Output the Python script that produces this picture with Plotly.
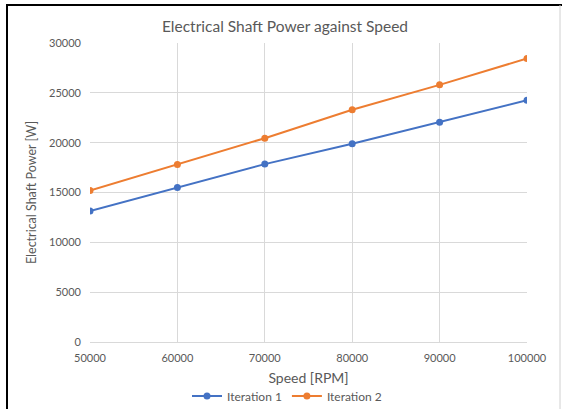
import plotly.graph_objects as go

speed = [50000, 60000, 70000, 80000, 90000, 100000]
iteration1 = [13150, 15500, 17850, 19900, 22050, 24250]
iteration2 = [15200, 17800, 20450, 23300, 25800, 28450]
series_names = ["Iteration 1", "Iteration 2"]
x_ticks = [50000, 60000, 70000, 80000, 90000, 100000]
y_ticks = [0, 5000, 10000, 15000, 20000, 25000, 30000]

W, H = 562, 409
L, R, T, B = 90, 527, 43, 342
pw, ph = R - L, B - T

def px(x):
    return (x - L) / pw

def py(y):
    return (B - y) / ph

gray = "#595959"
font_family = "Lato, 'Noto Sans', sans-serif"

fig = go.Figure()
fig.add_trace(go.Scatter(x=speed, y=iteration1, name=series_names[0], mode="lines+markers",
                         line=dict(color="#4472C4", width=2), marker=dict(size=7, color="#4472C4")))
fig.add_trace(go.Scatter(x=speed, y=iteration2, name=series_names[1], mode="lines+markers",
                         line=dict(color="#ED7D31", width=2), marker=dict(size=7, color="#ED7D31")))

fig.update_layout(
    width=W, height=H,
    margin=dict(l=L, r=W - R, t=T, b=H - B, autoexpand=False),
    paper_bgcolor="white", plot_bgcolor="white",
    font=dict(family=font_family, color=gray, size=11),
    title=dict(text="Electrical Shaft Power against Speed", x=(285) / W, xanchor="center",
               y=1 - 27 / H, yanchor="middle", font=dict(size=15.5, color=gray)),
    showlegend=True,
    legend=dict(orientation="h", x=px(287), xanchor="center", y=py(396), yanchor="middle",
                font=dict(size=12, color=gray), itemwidth=30, tracegroupgap=0),
    xaxis=dict(range=[50000, 100000], tickvals=x_ticks, ticktext=[str(v) for v in x_ticks],
               showgrid=True, gridcolor="#d9d9d9", gridwidth=1, zeroline=False,
               showline=True, linecolor="#d9d9d9", linewidth=1,
               ticklabelstandoff=6,
               title=dict(text="Speed [RPM]", font=dict(size=14, color=gray), standoff=9),
               tickfont=dict(size=11, color=gray)),
    yaxis=dict(range=[0, 30000], tickvals=y_ticks, ticktext=[str(v) for v in y_ticks],
               showgrid=True, gridcolor="#d9d9d9", gridwidth=1, zeroline=False,
               showline=False,
               ticklabelstandoff=8,
               title=dict(text="Electrical Shaft Power [W]", font=dict(size=12.5, color=gray), standoff=9),
               tickfont=dict(size=11, color=gray)),
    shapes=[
        dict(type="line", xref="paper", yref="paper", x0=px(6), x1=px(562), y0=py(5), y1=py(5),
             line=dict(color="black", width=2)),
        dict(type="line", xref="paper", yref="paper", x0=px(7), x1=px(7), y0=py(5), y1=py(409),
             line=dict(color="black", width=2)),
        dict(type="line", xref="paper", yref="paper", x0=px(560), x1=px(560), y0=py(5), y1=py(409),
             line=dict(color="#d0d0d0", width=1)),
    ],
)

fig.write_html("out.html", config={"displayModeBar": False},
               post_script="document.body.style.margin='0px';document.body.style.overflow='hidden';")
